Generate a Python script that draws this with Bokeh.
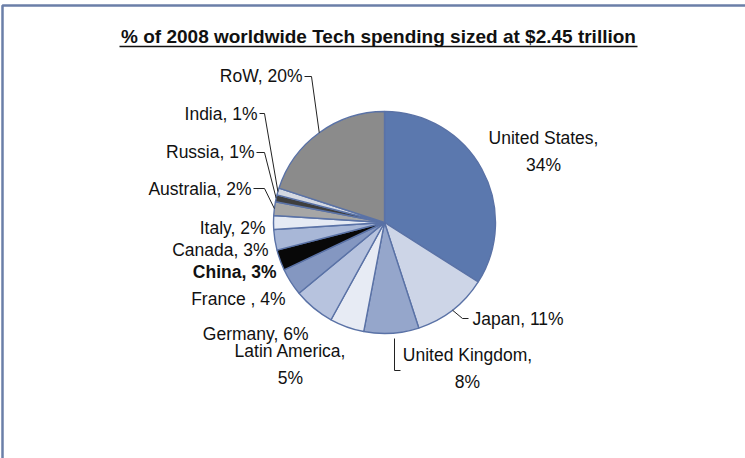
import numpy as np
from bokeh.plotting import figure
from bokeh.models import ColumnDataSource, Range1d
from bokeh.embed import file_html
from bokeh.resources import INLINE
from bokeh.core.properties import value

# ---------------- data ----------------
title_text = "% of 2008 worldwide Tech spending sized at $2.45 trillion"
countries = ["United States", "Japan", "United Kingdom", "Latin America", "Germany",
             "France ", "China", "Canada", "Italy", "Australia", "Russia", "India", "RoW"]
shares = [34, 11, 8, 5, 6, 4, 3, 3, 2, 2, 1, 1, 20]
slice_colors = ["#5B78AE", "#CDD5E7", "#95A6CB", "#E7EBF4", "#B7C3DE", "#8497C1",
                "#080808", "#A8B7D7", "#E5EAF4", "#A6A6A6", "#3E3E3E", "#D4D8E1", "#8B8B8B"]

# ---------------- layout (page pixels) ----------------
W, H = 745, 458
def dx(px):
    return px
def dy(py):
    return H - py

CX, CY, R = 384, 222, 111           # pie centre / radius on the page
FONT = "Liberation Sans"

# label placement: (x, y, align, two_lines, bold)
label_layout = {
    "United States": (543, 151, "center", True, False),
    "Japan": (472, 318, "left", False, False),
    "United Kingdom": (467, 368, "center", True, False),
    "Latin America": (290, 364, "center", True, False),
    "Germany": (308, 333, "right", False, False),
    "France ": (285, 298, "right", False, False),
    "China": (276, 271, "right", False, True),
    "Canada": (268, 249, "right", False, False),
    "Italy": (265, 227, "right", False, False),
    "Australia": (251, 188, "right", False, False),
    "Russia": (254, 151, "right", False, False),
    "India": (257, 113, "right", False, False),
    "RoW": (302, 75, "right", False, False),
}
# leader lines: fixed page points, and whether they end on the slice edge
leader_layout = {
    "RoW": ([(304, 76), (311, 76)], True),
    "India": ([(259, 113), (264, 113)], True),
    "Russia": ([(256, 152), (264, 152)], True),
    "Australia": ([(253, 188), (264, 188)], True),
    "Japan": ([(468, 318), (462, 318)], True),
    "United Kingdom": ([(400, 370), (394, 370), (394, 338)], False),
}

# ---------------- figure ----------------
p = figure(width=W, height=H, x_range=Range1d(0, W), y_range=Range1d(0, H),
           output_backend="svg", toolbar_location=None, min_border=0,
           x_axis_location=None, y_axis_location=None)
p.grid.visible = False
p.outline_line_color = None
p.background_fill_color = "white"
p.border_fill_color = "white"

# frame border (top and left, as in the reference)
p.line([dx(2), dx(2), dx(W)], [dy(H), dy(5), dy(5)], line_color="#6B7FA8", line_width=2.5)

# pie slices
vals = np.array(shares, dtype=float)
frac = vals / vals.sum()
cum_end = np.cumsum(frac)
cum_start = cum_end - frac
start = np.pi / 2 - 2 * np.pi * cum_start
end = np.pi / 2 - 2 * np.pi * cum_end
mid = (start + end) / 2
src = ColumnDataSource(dict(start=start, end=end, color=slice_colors, name=countries))
p.wedge(x=dx(CX), y=dy(CY), radius=R, start_angle="start", end_angle="end",
        direction="clock", fill_color="color", line_color="#5A72A6", line_width=1.4,
        source=src)

# leader lines
xs, ys = [], []
for i, c in enumerate(countries):
    if c not in leader_layout:
        continue
    pts, to_edge = leader_layout[c]
    lx = [dx(a) for a, b in pts]
    ly = [dy(b) for a, b in pts]
    if to_edge:
        lx.append(dx(CX) + R * np.cos(mid[i]))
        ly.append(dy(CY) + R * np.sin(mid[i]))
    xs.append(lx)
    ys.append(ly)
p.multi_line(xs, ys, line_color="#222222", line_width=1)

# labels
for i, c in enumerate(countries):
    x, y, align, two, bold = label_layout[c]
    sep = "\n" if two else " "
    txt = f"{c},{sep}{shares[i]}%"
    p.text(x=[dx(x)], y=[dy(y)], text=[txt], text_align=align, text_baseline="middle",
           text_font=value(FONT), text_font_size="17.5px", text_line_height=1.35,
           text_color="#111111", text_font_style="bold" if bold else "normal")

# title with underline
p.text(x=[dx(378)], y=[dy(36)], text=[title_text], text_align="center",
       text_baseline="middle", text_font=value(FONT), text_font_size="19px",
       text_font_style="bold", text_color="#111111")
p.line([dx(119), dx(637)], [dy(46), dy(46)], line_color="#111111", line_width=1.6)

open("out.html", "w").write(file_html(p, INLINE))
